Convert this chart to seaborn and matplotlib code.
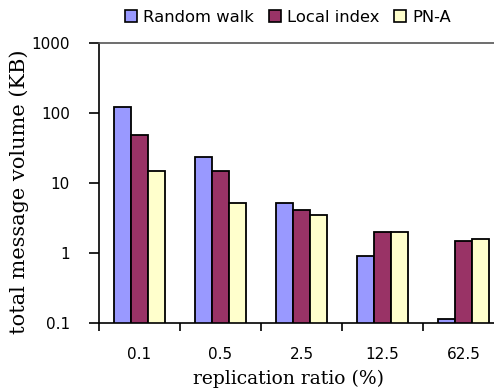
import matplotlib
matplotlib.use("Agg")
import matplotlib.pyplot as plt
import seaborn as sns
import pandas as pd
import numpy as np

# replication ratios (%) on the x axis
ratios = ["0.1", "0.5", "2.5", "12.5", "62.5"]
series = ["Random walk", "Local index", "PN-A"]

# total message volume (KB) per scheme
random_walk = [121, 23.5, 5.1, 0.91, 0.113]
local_index = [48, 15, 4.1, 2.0, 1.47]
pn_a = [15, 5.1, 3.5, 2.0, 1.57]

colors = ["#9999FF", "#993366", "#FFFFCC"]

df = pd.DataFrame({
    "ratio": ratios * 3,
    "scheme": [s for s in series for _ in ratios],
    "volume": random_walk + local_index + pn_a,
})

sns.set_style("white")
plt.rcParams["font.family"] = ["DejaVu Sans"]
plt.rcParams["text.color"] = "black"
plt.rcParams["axes.labelcolor"] = "black"
plt.rcParams["xtick.color"] = "black"
plt.rcParams["ytick.color"] = "black"

fig = plt.figure(figsize=(4.94, 3.92), dpi=100)
ax = fig.add_axes([99 / 494, 69 / 392, 405 / 494, 280 / 392])

sns.barplot(data=df, x="ratio", y="volume", hue="scheme", order=ratios,
            hue_order=series, palette=colors, width=0.64, saturation=1,
            edgecolor="black", linewidth=1.3, ax=ax, legend=False)

ax.set_yscale("log")
ax.set_ylim(0.1, 1000)
ax.set_xlim(-0.5, 4.5)

ax.set_yticks([0.1, 1, 10, 100, 1000])
ax.set_yticklabels(["0.1", "1", "10", "100", "1000"])
ax.yaxis.set_minor_locator(matplotlib.ticker.NullLocator())
ax.tick_params(axis="y", which="major", direction="out", length=7, width=1.2,
               color="black", pad=14, labelsize=11, left=True)

ax.set_xticks(range(len(ratios)))
ax.set_xticklabels(ratios)
ax.set_xticks(np.arange(-0.5, len(ratios), 1.0), minor=True)
ax.tick_params(axis="x", which="major", length=0, pad=17, labelsize=11)
ax.tick_params(axis="x", which="minor", direction="out", length=6, width=1.2,
               color="black", bottom=True)

for side in ["left", "bottom", "top"]:
    ax.spines[side].set_visible(True)
    ax.spines[side].set_color("black")
    ax.spines[side].set_linewidth(1.2)
ax.spines["top"].set_color("#555555")
ax.spines["right"].set_visible(False)

ax.set_xlabel("replication ratio (%)", family=["DejaVu Serif"], fontsize=13.5)
ax.xaxis.set_label_coords(0.469, -0.168)
ax.set_ylabel("total message volume (KB)", family=["DejaVu Serif"],
              fontsize=15)
ax.yaxis.set_label_coords(-0.172, 0.47)

handles = [matplotlib.patches.Patch(facecolor=c, edgecolor="black", linewidth=1.2)
           for c in colors]
fig.legend(handles, series, loc="center", bbox_to_anchor=(288 / 494, 1 - 17 / 392),
           ncol=3, frameon=False, fontsize=11.8, handlelength=0.75,
           handleheight=0.75, handletextpad=0.35, columnspacing=0.9)

fig.savefig("out.png", dpi=100)
